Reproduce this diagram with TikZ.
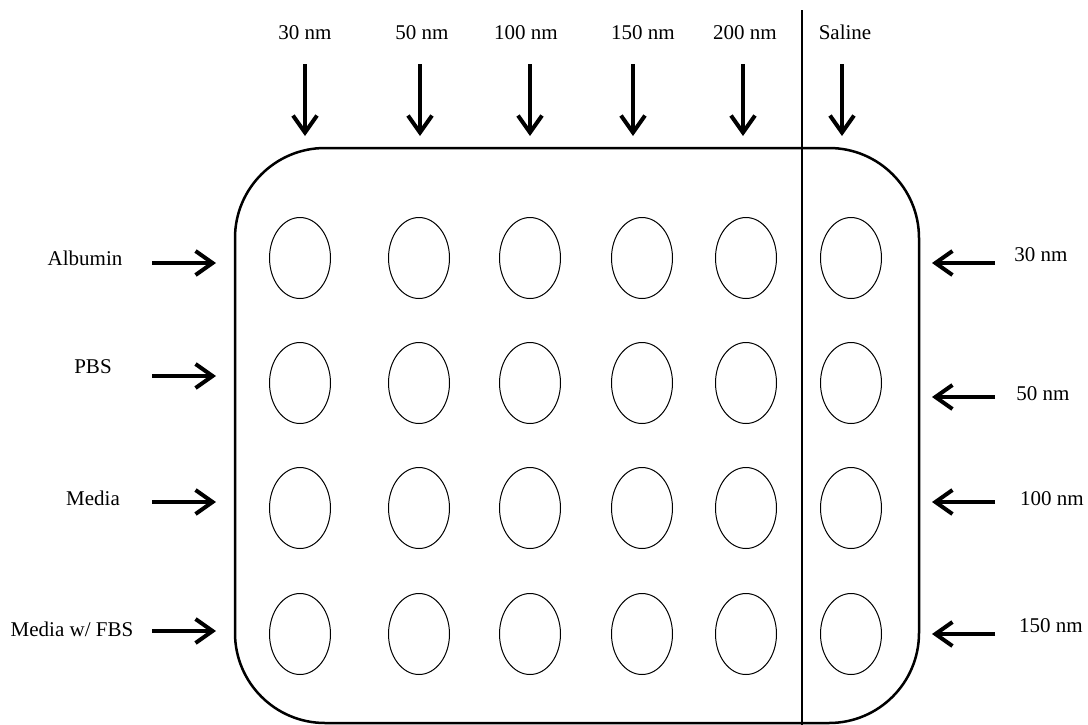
\documentclass[tikz,border=0pt]{standalone}
\usepackage{fontspec}
\setmainfont{Liberation Serif}
\usetikzlibrary{arrows.meta,shapes.geometric}
\begin{document}
\begin{tikzpicture}[x=1pt,y=-1pt,
  lbl/.style={anchor=base,inner sep=0pt,font=\fontsize{21}{25}\selectfont},
  well/.style={draw,ellipse,line width=1pt,minimum width=61pt,minimum height=81pt,inner sep=0pt},
  arr/.style={line width=4pt,-{Straight Barb[length=17pt,width=24pt,line width=4pt]}},
  plate/.style={draw,line width=2.5pt,rounded corners=90pt,minimum width=684pt,minimum height=575pt,inner sep=0pt},
  divider/.style={line width=2pt}]
\useasboundingbox (0,0) rectangle (1088,724);
\fill[white] (0,0) rectangle (1088,724);
% plate
\node[plate] (plate) at (577,435.5) {};
\coordinate (divtop) at (802,10);
\coordinate (divbot) at (802,726);
\draw[divider] (divtop) -- (divbot);
% wells
\foreach \c/\x in {1/300,2/419,3/530,4/642,5/746,6/851}{
  \foreach \r/\y in {1/258,2/383,3/508,4/634}{
    \node[well] (w\r\c) at (\x,\y) {};
  }
}
% top labels and arrows
\foreach \i/\lx/\ax/\t in {1/305/305/30 nm,2/422/420/50 nm,3/526/530/100 nm,4/643/633/150 nm,5/745/743/200 nm,6/845/842/Saline}{
  \node[lbl] (top\i) at (\lx,39) {\t};
  \coordinate (ts\i) at (\ax,64);
  \coordinate (te\i) at (\ax,136);
  \draw[arr] (ts\i) -- (te\i);
}
% left labels and arrows
\foreach \i/\lx/\ly/\ay/\t in {1/85/265.5/263/{Albumin},2/93/373.3/376/{PBS},3/93/505/502/{Media},4/72/636/631/{Media w/ FBS}}{
  \node[lbl] (left\i) at (\lx,\ly) {\t};
  \coordinate (ls\i) at (152,\ay);
  \coordinate (le\i) at (216,\ay);
  \draw[arr] (ls\i) -- (le\i);
}
% right labels and arrows
\foreach \i/\lx/\ly/\ay/\t in {1/1041/261/263/30 nm,2/1043/400.7/397/50 nm,3/1052/505.7/502/100 nm,4/1051/632.7/634/150 nm}{
  \node[lbl] (right\i) at (\lx,\ly) {\t};
  \coordinate (rs\i) at (995,\ay);
  \coordinate (re\i) at (932,\ay);
  \draw[arr] (rs\i) -- (re\i);
}
\end{tikzpicture}
\end{document}
